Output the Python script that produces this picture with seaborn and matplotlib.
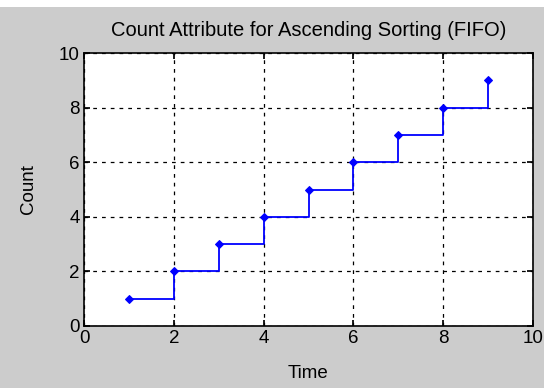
import matplotlib
matplotlib.use("Agg")
import matplotlib.pyplot as plt
import seaborn as sns
import pandas as pd
from matplotlib.patches import Rectangle

time = [1, 2, 3, 4, 5, 6, 7, 8, 9]
count = [1, 2, 3, 4, 5, 6, 7, 8, 9]
ticks = [0, 2, 4, 6, 8, 10]

sns.set_theme(style="white")
plt.rcParams["font.family"] = ["Liberation Sans", "DejaVu Sans"]

df = pd.DataFrame({"Time": time, "Count": count})

fig = plt.figure(figsize=(5.44, 3.88), dpi=100, facecolor="#cccccc")
fig.patches.append(Rectangle((0, 1 - 7 / 388), 1, 7 / 388, transform=fig.transFigure,
                             facecolor="white", edgecolor="none", zorder=-1))
ax = fig.add_axes([84 / 544, 1 - 326 / 388, (533 - 84) / 544, (326 - 53) / 388])
ax.set_facecolor("white")

sns.lineplot(data=df, x="Time", y="Count", ax=ax, color="#0000ff", linewidth=1.3,
             drawstyle="steps-post", marker="D", markersize=4.5, markeredgecolor="#0000ff")

ax.set_xlim(0, 10)
ax.set_ylim(0, 10)
ax.set_xticks(ticks)
ax.set_yticks(ticks)
ax.grid(True, color="black", linestyle=(0, (3, 4)), linewidth=0.9)
ax.tick_params(direction="in", length=4, labelsize=13.5, colors="black",
               top=True, right=True, bottom=True, left=True, pad=3)
for s in ax.spines.values():
    s.set_color("black")
    s.set_linewidth(1.2)
ax.set_title("Count Attribute for Ascending Sorting (FIFO)", fontsize=14.5, pad=12, color="black")
ax.set_xlabel("Time", fontsize=13.5, labelpad=13, color="black")
ax.set_ylabel("Count", fontsize=13.5, labelpad=16, color="black")

fig.savefig("out.png", dpi=100, facecolor=fig.get_facecolor())
